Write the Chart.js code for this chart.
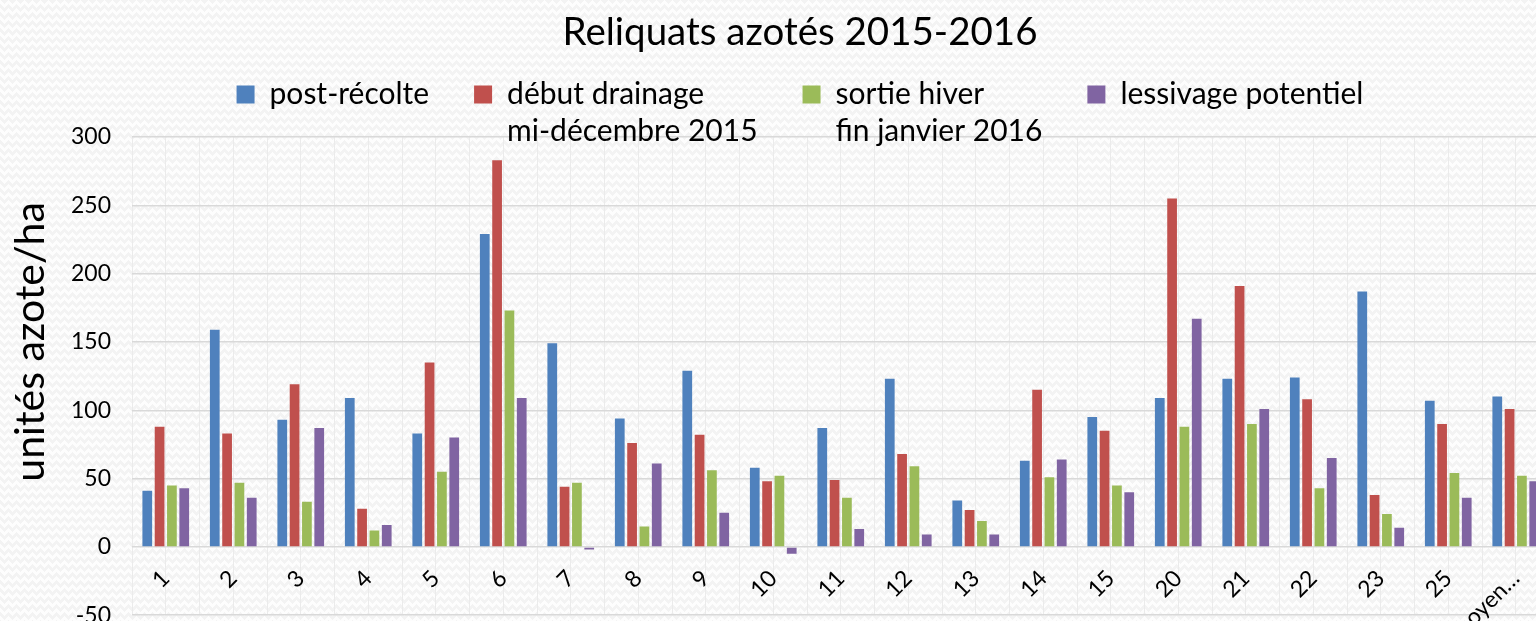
<!DOCTYPE html>
<html lang="fr">
<head>
<meta charset="utf-8">
<title>Reliquats azotés 2015-2016</title>
<script src="https://cdn.jsdelivr.net/npm/chart.js@4.4.4/dist/chart.umd.min.js"></script>
<style>
  html, body { margin: 0; padding: 0; }
  body {
    width: 1536px;
    height: 621px;
    overflow: hidden;
    background-color: #fdfdfd;
    background-image:
      linear-gradient(135deg, #f3f3f3 25%, transparent 25%),
      linear-gradient(225deg, #f3f3f3 25%, transparent 25%),
      linear-gradient(315deg, #f3f3f3 25%, transparent 25%),
      linear-gradient(45deg, #f3f3f3 25%, transparent 25%);
    background-position: -4px 0, -4px 0, 0 0, 0 0;
    background-size: 8px 8px;
  }
  #chart { display: block; }
</style>
</head>
<body>
<canvas id="chart" width="1600" height="650"></canvas>
<script>
  // categories (parcelles) and the four series
  const categories = ['1', '2', '3', '4', '5', '6', '7', '8', '9', '10', '11', '12', '13', '14', '15', '20', '21', '22', '23', '25', 'moyen…'];
  const postRecolte   = [41, 159, 93, 109, 83, 229, 149, 94, 129, 58, 87, 123, 34, 63, 95, 109, 123, 124, 187, 107, 110];
  const debutDrainage = [88, 83, 119, 28, 135, 283, 44, 76, 82, 48, 49, 68, 27, 115, 85, 255, 191, 108, 38, 90, 101];
  const sortieHiver   = [45, 47, 33, 12, 55, 173, 47, 15, 56, 52, 36, 59, 19, 51, 45, 88, 90, 43, 24, 54, 52];
  const lessivage     = [43, 36, 87, 16, 80, 109, -2, 61, 25, -5, 13, 9, 9, 64, 40, 167, 101, 65, 14, 36, 48];

  const seriesNames = ['post-récolte', 'début drainage', 'sortie hiver', 'lessivage potentiel'];
  const legendLines = ['post-récolte', ['début drainage', 'mi-décembre 2015'], ['sortie hiver', 'fin janvier 2016'], 'lessivage potentiel'];
  const seriesColors = ['#4f81bd', '#c0504d', '#9bbb59', '#8064a2'];

  const yMin = -50;
  const yMax = 300;
  const yStep = 50;

  Chart.defaults.font.family = 'Lato, "Open Sans", sans-serif';
  Chart.defaults.color = '#000';

  // legend rows measure text with measureText(text): for a two-line
  // label give it the longest line instead of "a,b"
  function legendText(lines) {
    if (typeof lines === 'string') return lines;
    const arr = lines.slice();
    const longest = lines.reduce(function (a, b) { return a.length >= b.length ? a : b; });
    arr.toString = function () { return longest; };
    return arr;
  }

  // the legend in the original overlaps the plot a bit: fix its box height,
  // and do not clip the second text line at the box bottom
  const legendOverlapPlugin = {
    id: 'legendOverlap',
    beforeInit: function (chart) {
      const legend = chart.legend;
      const fit = legend.fit;
      const draw = legend.draw;
      legend.fit = function () {
        fit.call(this);
        this.height = 102.5;
      };
      legend.draw = function () {
        const b = this.bottom;
        this.bottom = b + 30;
        draw.call(this);
        this.bottom = b;
      };
    },
    // axis title sits centred between 0 and 300, not on the whole axis
    afterLayout: function (chart) {
      const y = chart.scales.y;
      if (y._titleShifted) return;
      const drawTitle = y.drawTitle;
      y.drawTitle = function () {
        const b = this.bottom;
        this.bottom = this.getPixelForValue(0);
        drawTitle.call(this);
        this.bottom = b;
      };
      y._titleShifted = true;
    }
  };

  const values = [postRecolte, debutDrainage, sortieHiver, lessivage];

  new Chart(document.getElementById('chart'), {
    type: 'bar',
    data: {
      labels: categories,
      datasets: values.map(function (v, i) {
        return {
          label: seriesNames[i],
          data: v,
          backgroundColor: seriesColors[i],
          borderWidth: 0,
          categoryPercentage: 0.73,
          barPercentage: 0.79
        };
      })
    },
    options: {
      responsive: false,
      animation: false,
      layout: { padding: { left: 0, right: 0, top: 0, bottom: 27 } },
      plugins: {
        tooltip: { enabled: false },
        title: {
          display: true,
          text: 'Reliquats azotés 2015-2016',
          color: '#000',
          font: { size: 38.5, weight: 'normal' },
          padding: { top: 9, bottom: -20.7 }
        },
        legend: {
          display: true,
          position: 'top',
          labels: {
            boxWidth: 18,
            boxHeight: 18,
            padding: 45,
            color: '#000',
            font: { size: 30, lineHeight: 1.23 },
            generateLabels: function (chart) {
              const items = Chart.defaults.plugins.legend.labels.generateLabels(chart);
              items.forEach(function (it, i) { it.text = legendText(legendLines[i]); });
              return items;
            }
          }
        }
      },
      scales: {
        x: {
          position: { y: 0 },
          offset: true,
          grid: { offset: true, color: '#ebebeb', lineWidth: 1, drawTicks: false },
          border: { display: false },
          ticks: {
            autoSkip: false,
            minRotation: 45,
            maxRotation: 45,
            padding: 18,
            color: '#000',
            font: { size: 23 }
          }
        },
        x2: {
          type: 'category',
          labels: categories,
          position: { y: 0 },
          offset: true,
          grid: { offset: false, color: '#ebebeb', lineWidth: 1, drawTicks: false },
          border: { display: false },
          ticks: { display: false }
        },
        y: {
          min: yMin,
          max: yMax,
          afterFit: function (scale) { scale.width = 132; },
          ticks: { stepSize: yStep, padding: 21, color: '#000', font: { size: 23 } },
          grid: { color: '#d9d9d9', lineWidth: 1.5, drawTicks: false },
          border: { display: false },
          title: {
            display: true,
            text: 'unités azote/ha',
            color: '#000',
            font: { size: 41 },
            padding: { top: 6, bottom: 0 }
          }
        },
        // empty right margin: the plot runs past the right edge of the picture
        yRight: {
          position: 'right',
          display: true,
          min: yMin,
          max: yMax,
          afterFit: function (scale) { scale.width = 50.5; },
          ticks: { display: false },
          grid: { display: false },
          border: { display: false }
        }
      }
    },
    plugins: [legendOverlapPlugin]
  });
</script>
</body>
</html>
